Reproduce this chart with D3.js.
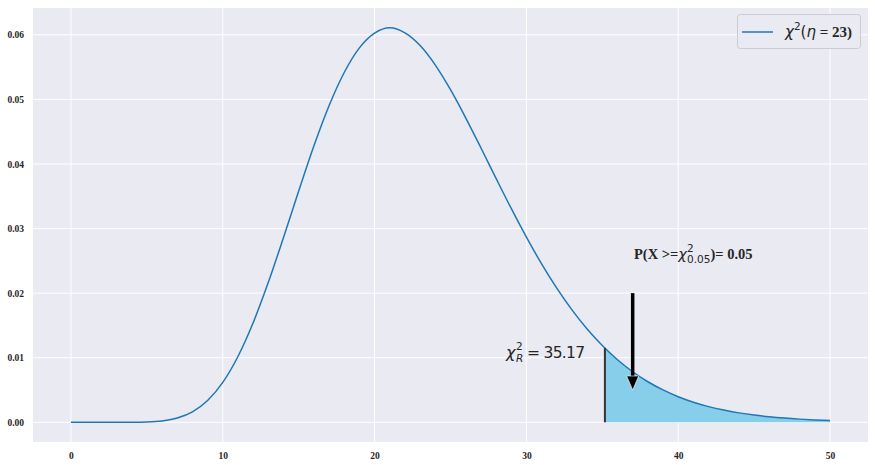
<!DOCTYPE html>
<html><head><meta charset="utf-8">
<script src="https://cdn.jsdelivr.net/npm/d3@7"></script>
<style>body{margin:0;background:#fff;} svg{display:block;}</style>
</head><body>
<script>
// Values (chi-square density, 23 d.o.f.)
const xValues = [0,1,2,3,4,5,6,7,8,9,10,11,12,13,14,15,16,17,18,19,20,21,22,23,24,25,26,27,28,29,30,31,32,33,34,35,36,37,38,39,40,41,42,43,44,45,46,47,48,49,50];
const density = [0,0,0.00000002,0.0000007,0.0000082,0.000052,0.000214,0.000654,0.00161,0.00337,0.00618,0.01019,0.01541,0.02167,0.02862,0.0358,0.04277,0.04901,0.05416,0.05797,0.06026,0.0611,0.0603,0.05833,0.05531,0.0515,0.04715,0.04251,0.03777,0.03311,0.02867,0.02453,0.02077,0.0174,0.01444,0.01188,0.00968,0.00783,0.00628,0.00501,0.00396,0.00311,0.00243,0.00189,0.00146,0.00112,0.000856,0.00065,0.000492,0.000371,0.000278];
const critX = 35.17;
const critY = 0.0115;
const xTicks = [0,10,20,30,40,50];
const yTicks = [0,0.01,0.02,0.03,0.04,0.05,0.06];
const arrowX = 37, arrowFrom = 0.02, arrowTo = 0.005;

const W = 875, H = 465;
const m = {left:33, right:7, top:8, bottom:23};
const svg = d3.select("body").append("svg").attr("width",W).attr("height",H);
const x = d3.scaleLinear().domain([-2.5,52.5]).range([m.left, W-m.right]);
const y = d3.scaleLinear().domain([-0.00305,0.06415]).range([H-m.bottom, m.top]);

svg.append("rect").attr("x",m.left).attr("y",m.top).attr("width",W-m.left-m.right).attr("height",H-m.top-m.bottom).attr("fill","#EAEAF2");

const g = svg.append("g");
g.selectAll("line.vx").data(xTicks).join("line").attr("x1",d=>x(d)).attr("x2",d=>x(d)).attr("y1",m.top).attr("y2",H-m.bottom).attr("stroke","#fff").attr("stroke-width",1);
g.selectAll("line.hy").data(yTicks).join("line").attr("y1",d=>y(d)).attr("y2",d=>y(d)).attr("x1",m.left).attr("x2",W-m.right).attr("stroke","#fff").attr("stroke-width",1);

const tickFont = "'Liberation Serif','Times New Roman',serif";
const xAxis = d3.axisBottom(x).tickValues(xTicks).tickSize(0).tickPadding(10).tickFormat(d3.format("d"));
const ax = svg.append("g").attr("transform",`translate(0,${H-m.bottom})`).call(xAxis);
ax.select(".domain").remove();
ax.selectAll("text").attr("font-family",tickFont).attr("font-weight","bold").attr("font-size",9.5).attr("fill","#262626");
const yAxis = d3.axisLeft(y).tickValues(yTicks).tickSize(0).tickPadding(9).tickFormat(d3.format(".2f"));
const ay = svg.append("g").attr("transform",`translate(${m.left},0)`).call(yAxis);
ay.select(".domain").remove();
ay.selectAll("text").attr("font-family",tickFont).attr("font-weight","bold").attr("font-size",9.5).attr("fill","#262626");

const pts = xValues.map((v,i)=>[v,density[i]]);
const tail = [[critX,critY]].concat(pts.filter(p=>p[0]>critX));
const area = d3.area().x(d=>x(d[0])).y0(y(0)).y1(d=>y(d[1])).curve(d3.curveMonotoneX);
svg.append("path").datum(tail).attr("d",area).attr("fill","#87CEEB");

const line = d3.line().x(d=>x(d[0])).y(d=>y(d[1])).curve(d3.curveMonotoneX);
svg.append("path").datum(pts).attr("d",line).attr("fill","none").attr("stroke","#1f77b4").attr("stroke-width",1.5);

svg.append("line").attr("x1",x(critX)).attr("x2",x(critX)).attr("y1",y(0)).attr("y2",y(critY)).attr("stroke","#333").attr("stroke-width",2);

// arrow
const ax0 = x(arrowX), ay0 = y(arrowFrom), ay1 = y(arrowTo);
svg.append("line").attr("x1",ax0).attr("x2",ax0).attr("y1",ay0).attr("y2",ay1-13).attr("stroke","#000").attr("stroke-width",3.5);
svg.append("path").attr("d",`M${ax0-6},${ay1-14}L${ax0+6},${ay1-14}L${ax0},${ay1}Z`).attr("fill","#000").attr("stroke","#fff").attr("stroke-width",0.6);

const sans = "'DejaVu Sans',sans-serif";
// chi_R label, built from separate pieces so that the stacked indices do not collide
const lab = svg.append("g").attr("font-family",sans).attr("fill","#262626");
lab.append("text").attr("x",506).attr("y",358).attr("font-size",16).attr("font-style","italic").text("χ");
lab.append("text").attr("x",516).attr("y",350).attr("font-size",10.5).text("2");
lab.append("text").attr("x",516).attr("y",362).attr("font-size",10.5).attr("font-style","italic").text("R");
lab.append("text").attr("x",527).attr("y",358).attr("font-size",15.5).attr("textLength",58).text("= 35.17");

// P annotation
const t2 = svg.append("text").attr("x",634).attr("y",259).attr("font-size",14.5).attr("fill","#262626");
t2.append("tspan").attr("font-family",tickFont).attr("font-weight","bold").text("P(X >=");
t2.append("tspan").attr("font-family",sans).attr("font-style","italic").text("χ");
t2.append("tspan").attr("font-family",sans).attr("font-size",10.5).attr("dy",-7).text("2");
t2.append("tspan").attr("font-family",sans).attr("font-size",10.5).attr("dx",-6.5).attr("dy",11).text("0.05");
t2.append("tspan").attr("font-family",tickFont).attr("font-weight","bold").attr("dy",-4).text(")= 0.05");

// legend
svg.append("rect").attr("x",737.5).attr("y",14.5).attr("width",123).attr("height",34).attr("rx",3).attr("fill","#EAEAF2").attr("stroke","#cccccc").attr("stroke-width",1);
svg.append("line").attr("x1",742).attr("x2",773).attr("y1",32).attr("y2",32).attr("stroke","#1f77b4").attr("stroke-width",1.5);
const t3 = svg.append("text").attr("x",785).attr("y",37).attr("font-size",15).attr("fill","#262626");
t3.append("tspan").attr("font-family",sans).attr("font-style","italic").text("χ");
t3.append("tspan").attr("font-family",sans).attr("font-size",10.5).attr("dy",-7).text("2");
t3.append("tspan").attr("font-family",sans).attr("dy",7).text("(");
t3.append("tspan").attr("font-family",sans).attr("font-style","italic").text("η");
t3.append("tspan").attr("font-family",tickFont).attr("font-weight","bold").text(" = 23)");
</script>
</body></html>
